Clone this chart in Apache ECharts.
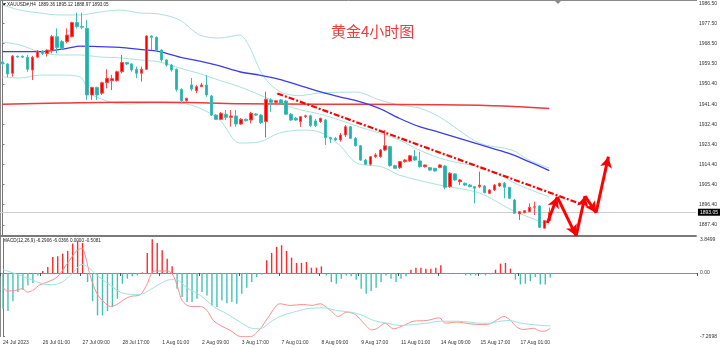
<!DOCTYPE html>
<html>
<head>
<meta charset="utf-8">
<script src="https://cdn.jsdelivr.net/npm/echarts@6/dist/echarts.min.js"></script>
<style>
  html, body { margin: 0; padding: 0; background: #ffffff; }
  #chart { width: 720px; height: 349px; }
</style>
</head>
<body>
<div id="chart"></div>
<script>
// XAUUSD H4 candles, 24 Jul 2023 17:00 .. 17 Aug 2023 09:00
const opens  = [1960.3,1959.4,1955.2,1962.8,1962.8,1962.4,1956.7,1962.4,1965.2,1964.1,1965.3,1971.6,1969.4,1969.4,1971.6,1977.9,1976.1,1975.3,1945.5,1948.9,1946.3,1951.0,1951.9,1951.9,1955.9,1960.0,1959.4,1957.0,1955.2,1957.0,1971.9,1971.3,1965.6,1961.2,1958.9,1957.0,1948.0,1943.0,1950.0,1947.4,1949.2,1950.0,1945.0,1936.5,1934.6,1936.9,1935.5,1936.1,1932.5,1934.6,1934.3,1937.0,1936.5,1933.6,1943.3,1942.2,1943.3,1942.8,1936.9,1935.1,1933.6,1935.8,1936.2,1933.9,1933.6,1934.3,1926.4,1926.1,1925.4,1927.6,1931.3,1926.1,1922.8,1916.4,1914.5,1917.9,1917.9,1920.9,1922.4,1913.9,1913.0,1915.7,1916.0,1917.9,1916.0,1913.4,1913.0,1912.7,1913.1,1913.7,1904.5,1910.2,1906.7,1906.0,1905.2,1904.5,1904.5,1904.8,1901.5,1903.0,1904.8,1906.0,1904.2,1898.5,1892.3,1892.8,1893.3,1895.3,1895.8,1885.9,1889.36];
const closes = [1959.4,1954.9,1962.9,1962.5,1962.4,1957.0,1962.4,1965.2,1964.1,1965.6,1971.6,1966.8,1966.4,1972.3,1977.9,1976.1,1975.8,1945.5,1948.9,1945.5,1951.0,1953.0,1952.8,1955.9,1960.0,1959.4,1956.7,1955.2,1957.0,1971.9,1971.3,1965.6,1961.2,1958.9,1956.7,1948.0,1943.0,1944.0,1948.2,1949.2,1950.0,1945.5,1936.5,1934.6,1937.3,1935.5,1936.1,1932.5,1934.6,1934.0,1937.3,1936.5,1933.1,1943.6,1942.2,1942.9,1941.8,1936.9,1934.3,1934.3,1935.8,1936.2,1931.8,1931.8,1935.1,1926.4,1925.8,1925.4,1927.6,1931.3,1926.1,1922.8,1916.4,1914.5,1917.9,1918.7,1920.9,1922.8,1913.9,1912.7,1915.7,1916.4,1918.3,1916.4,1913.4,1914.2,1911.9,1911.5,1914.2,1904.2,1910.5,1907.5,1907.5,1905.2,1904.5,1903.8,1905.2,1901.8,1903.0,1905.2,1906.0,1904.2,1899.3,1892.6,1893.3,1893.7,1895.3,1895.5,1886.3,1889.3,1893.05];
const lows   = [1958.5,1953.4,1953.7,1962.2,1962.1,1955.9,1952.2,1962.4,1963.4,1962.7,1964.1,1964.1,1965.6,1968.6,1971.3,1975.3,1974.9,1943.3,1943.3,1943.3,1945.5,1948.5,1947.7,1951.5,1955.2,1958.9,1955.9,1953.0,1951.5,1956.7,1965.6,1964.9,1960.4,1958.2,1955.9,1947.0,1941.8,1942.5,1947.4,1946.3,1949.1,1944.7,1936.1,1934.3,1934.3,1934.3,1931.3,1931.3,1932.1,1933.6,1932.8,1936.1,1932.5,1926.5,1938.0,1941.5,1941.0,1936.5,1933.9,1933.9,1931.3,1935.2,1931.2,1931.2,1933.0,1923.1,1924.0,1924.9,1924.6,1926.7,1925.8,1922.4,1916.0,1914.2,1913.9,1917.3,1917.4,1920.4,1913.4,1912.4,1912.4,1915.2,1915.5,1916.0,1913.0,1913.0,1911.5,1911.2,1912.7,1903.3,1903.9,1907.0,1905.2,1904.8,1904.2,1897.0,1903.8,1901.5,1901.2,1902.5,1904.3,1899.3,1899.0,1892.3,1889.6,1892.6,1893.2,1891.8,1886.0,1885.7,1888.97];
const highs  = [1961.2,1959.7,1963.4,1963.1,1963.2,1963.4,1963.0,1965.6,1965.6,1965.9,1972.3,1975.3,1970.1,1975.3,1978.3,1982.3,1982.3,1979.1,1949.2,1949.2,1951.5,1957.0,1954.5,1956.4,1963.4,1960.3,1959.7,1958.2,1958.2,1972.3,1972.2,1971.6,1965.9,1961.5,1959.4,1957.4,1948.5,1944.3,1953.1,1950.0,1950.9,1954.4,1945.5,1937.0,1937.9,1938.8,1938.8,1938.8,1935.2,1935.0,1938.0,1937.4,1937.0,1947.0,1944.0,1943.3,1943.7,1943.3,1937.4,1935.7,1936.1,1936.7,1936.7,1934.8,1935.3,1934.8,1926.8,1926.7,1928.5,1932.1,1931.6,1926.7,1923.1,1916.9,1918.2,1919.5,1921.3,1929.8,1922.8,1914.3,1916.0,1916.9,1918.7,1920.9,1920.1,1914.3,1913.3,1912.8,1914.6,1914.2,1911.0,1910.6,1907.9,1906.3,1905.7,1904.8,1911.2,1905.2,1903.4,1905.7,1906.3,1906.6,1904.3,1899.0,1893.6,1894.0,1897.0,1897.8,1896.3,1889.6,1895.12];

// Overlays read as [bar index, price]
const bbUpper  = [[0,1985.8],[3.5,1983.5],[7.5,1982.2],[11.5,1981.3],[15.6,1981.3],[19.6,1982.6],[23.6,1983.5],[27.6,1982.2],[31.6,1981.7],[35.6,1979.1],[39.7,1972.3],[43.7,1971.0],[47.7,1972.3],[49.7,1967.0],[51.7,1957.0],[53.7,1950.6],[56.3,1946.5],[59.7,1945.2],[63.8,1946.4],[71.2,1946.8],[75.8,1943.3],[79.8,1941.0],[83.8,1939.7],[87.9,1935.7],[95.9,1924.0],[102.5,1920.9],[105.9,1916.4],[110,1912.8]];
const bbMiddle = [[0,1969.2],[3.5,1967.9],[7.5,1964.7],[11.5,1963.4],[15.6,1963.4],[19.6,1962.5],[23.6,1962.1],[27.6,1961.2],[31.6,1960.3],[35.6,1957.6],[39.7,1955.0],[43.7,1952.0],[47.7,1949.2],[51.7,1945.6],[55.7,1941.8],[59.7,1939.0],[63.8,1937.0],[67.8,1934.3],[71.8,1931.2],[75.8,1928.5],[79.8,1925.4],[83.8,1920.9],[87.9,1917.3],[91.9,1915.1],[95.9,1913.3],[99.9,1909.7],[103.9,1905.2],[110,1899.9]];
const bbLower  = [[0,1953.6],[3.5,1953.1],[7.5,1954.4],[11.5,1954.4],[15.6,1953.6],[17.6,1946.4],[21.6,1942.4],[25.6,1941.5],[29.6,1941.9],[35.6,1941.9],[39.7,1939.6],[43.7,1934.3],[47.7,1924.0],[51.7,1924.5],[55.7,1928.5],[60.3,1929.8],[63.8,1928.9],[67.8,1923.1],[71.2,1915.1],[76.4,1913.3],[79.8,1909.7],[87.9,1905.2],[95.9,1901.7],[102.5,1894.0],[110,1887.3]];
const maBlue   = [[0,1964.9],[7.5,1964.9],[13,1966.4],[15.6,1967.4],[19.6,1967.1],[23.6,1966.8],[27.6,1965.9],[31.6,1964.9],[35.7,1962.4],[39.7,1960.7],[43.7,1958.5],[47.7,1955.9],[51.7,1954.4],[55.7,1952.5],[59.4,1950.0],[63.8,1947.0],[67.8,1944.7],[71.8,1942.5],[75.8,1939.5],[79.8,1935.1],[83.9,1931.3],[87.9,1928.8],[95.9,1923.4],[101.9,1919.4],[105.9,1915.7],[110,1911.7]];
const maRed    = [[0,1941.4],[12,1941.9],[24,1942.2],[32,1942.2],[40,1942.0],[48,1941.6],[64,1941.4],[80,1941.3],[96,1940.9],[104,1940.2],[110,1939.5]];
const trendLine = [[55.3,1946.2],[116.4,1896.7]];
const arrowPath = [[109.6,1888.2],[111.6,1899.9],[115.4,1882.5],[117.2,1900.3],[119.4,1892.8],[121.9,1917.9]];

// MACD(12,26,9)
const macdHist = [-4.08,-4.35,-3.21,-2.18,-1.91,-1.41,-1.15,-0.27,0.23,0.69,1.83,1.91,2.21,2.52,3.36,3.7,3.44,-1.03,-3.21,-4.85,-4.85,-4.35,-3.89,-2.94,-1.22,-0.65,-0.38,-0.27,0.05,2.29,3.85,3.44,2.60,1.64,0.76,-1.79,-2.75,-3.32,-3.32,-2.94,-2.18,-2.56,-3.70,-3.89,-3.13,-3.44,-3.32,-3.51,
  -2.37,-1.68,-1.03,-0.46,-0.19,1.45,2.29,2.98,3.17,2.52,1.76,1.15,1.15,1.26,0.61,0.61,0.76,-0.27,-1.03,-1.22,-0.65,-0.27,-0.38,-0.76,-1.79,-2.37,-2.06,-1.68,-1.03,-0.27,-0.65,-1.03,-0.65,-0.38,0.38,0.61,0.61,0.50,0.50,0.61,0.88,-0.08,-0.06,-0.10,-0.08,-0.27,-0.27,-0.27,
  -0.15,-0.27,-0.15,0.38,1.07,1.15,0.50,-0.76,-1.30,-1.22,-0.92,-0.46,-1.30,-1.30,-0.5081];
const macdDif = [[0,-1.6],[0.8,-2.06],[2.5,-1.98],[3.9,-1.79],[4.9,-2.18],[6.2,-1.91],[7.2,-1.41],[8.9,-1.03],[10.9,-0.46],[12.9,1.07],[14.9,2.6],[15.9,2.79],[16.6,1.83],[17.6,-0.46],[18.9,-2.37],[20.3,-3.32],[21.6,-3.82],[22.9,-3.59],[24.3,-3.05],[25.6,-2.67],[27.6,-2.48],[29,-1.22],[30,0.11],[31,0.23],[33,0.23],[34,-0.08],[35,-1.41],[36,-3.13],[37.7,-3.82],[39.7,-3.82],[41,-4.27],[42.3,-5.42],[43.7,-5.99],[45.7,-6.56],[47.7,-7.25],[49.7,-7.2698],[51.7,-6.37],[53.1,-5.23],[55.7,-3.51],[57.7,-3.7],[60.4,-3.59],[62.1,-3.7],[63.7,-3.51],[65.8,-4.27],[67.4,-4.96],[69.1,-4.47],[70.8,-4.73],[72.5,-5.73],[74.1,-6.49],[75.1,-6.37],[76.8,-5.73],[78.5,-6.37],[80.5,-5.99],[82.5,-5.5],[85.2,-5.42],[87.7,-5.11],[88.9,-5.73],[91.2,-5.6],[93.9,-5.8],[95.9,-5.88],[97.9,-5.8],[99.3,-5.34],[100.7,-4.96],[101.9,-5.34],[103.3,-6.18],[104.6,-6.45],[106.6,-6.3],[107.9,-6.62],[108.9,-6.65],[110,-6.2906]];
const macdDea = [[0,0.38],[2.5,-0.08],[5.2,-0.65],[7.9,-1.22],[9.9,-1.34],[11.9,-1.03],[13.9,-0.08],[15.9,0.99],[16.9,0.76],[18.9,-0.27],[21.6,-1.41],[23.6,-2.18],[25.6,-2.44],[27.6,-2.44],[29.6,-1.91],[31.6,-1.22],[33.6,-0.76],[35,-0.8],[37,-1.68],[39.7,-2.56],[42.3,-3.82],[45,-4.66],[47.7,-5.61],[49.7,-6.26],[51.7,-6.37],[53.7,-5.61],[55.7,-4.96],[58.4,-4.47],[61.1,-4.08],[64.4,-3.97],[67.1,-4.27],[69.8,-4.47],[71.8,-4.73],[74.5,-5.42],[77.2,-5.73],[79.8,-5.99],[82.5,-5.88],[85.2,-5.73],[87.9,-5.5],[91.2,-5.5],[93.9,-5.61],[95.9,-5.73],[97.9,-5.73],[99.9,-5.5],[101.9,-5.42],[103.9,-5.7],[105.9,-5.85],[107.9,-5.97],[110,-6.0366]];

// Axis labels
const priceTicks = [1986.5,1977.5,1968.5,1959.5,1950.4,1941.4,1932.4,1923.4,1914.4,1905.4,1896.4,1887.4];
const macdTicks = [3.8499, 0, -7.2698];
const timeLabels = ['24 Jul 2023','26 Jul 01:00','27 Jul 09:00','28 Jul 17:00','1 Aug 01:00','2 Aug 09:00','3 Aug 17:00','7 Aug 01:00','8 Aug 09:00','9 Aug 17:00','11 Aug 01:00','14 Aug 09:00','15 Aug 17:00','17 Aug 01:00'];
const symbolName = 'XAUUSD#';
const chartTitle = '黄金4小时图';

// H4 session bars (weekdays only); extra slots leave room on the right
const SLOTS = 140;
function barTimes(count) {
  const mon = ['Jan','Feb','Mar','Apr','May','Jun','Jul','Aug','Sep','Oct','Nov','Dec'];
  const out = [];
  let t = Date.UTC(2023, 6, 24, 17);
  while (out.length < count) {
    const d = new Date(t);
    const wd = d.getUTCDay();
    if (wd !== 0 && wd !== 6) {
      out.push(d.getUTCDate() + ' ' + mon[d.getUTCMonth()] + ' ' + String(d.getUTCHours()).padStart(2, '0') + ':00');
    }
    t += 4 * 3600 * 1000;
  }
  return out;
}
const categories = barTimes(SLOTS);
const showTime = (idx, val) => idx === 0 || timeLabels.indexOf(val) >= 0;

const candleData = opens.map((o, i) => [o, closes[i], lows[i], highs[i]]);
const last = opens.length - 1;

const UP = '#ff0000', DOWN = '#20b2aa';
const FONT = 'Liberation Sans';
const GRID_L = 0, GRID_R = 23;

const arrowSegments = [];
for (let k = 0; k + 1 < arrowPath.length; k++) {
  arrowSegments.push([{ coord: arrowPath[k] }, { coord: arrowPath[k + 1] }]);
}

const overlayLine = (data, color, width, extra) => Object.assign({
  type: 'line', xAxisIndex: 2, yAxisIndex: 0, data: data,
  showSymbol: false, symbol: 'none', smooth: 0.3, silent: true,
  lineStyle: { color: color, width: width }, z: 3
}, extra || {});

const chart = echarts.init(document.getElementById('chart'), null, { renderer: 'canvas' });
chart.setOption({
  animation: false,
  backgroundColor: '#ffffff',
  title: {
    text: chartTitle, left: 326, top: 19,
    textStyle: { color: '#f23a3a', fontSize: 15, fontWeight: 'normal', fontFamily: 'Noto Sans CJK SC' }
  },
  grid: [
    { left: GRID_L, right: GRID_R, top: 0, height: 236 },
    { left: GRID_L, right: GRID_R, top: 239.3, height: 97.4 }
  ],
  xAxis: [
    { type: 'category', gridIndex: 0, data: categories, boundaryGap: true,
      axisLine: { show: true, lineStyle: { color: '#7a7a7a', width: 2 } },
      axisTick: { show: false }, axisLabel: { show: false }, splitLine: { show: false } },
    { type: 'category', gridIndex: 1, data: categories, boundaryGap: true,
      axisLine: { show: true, lineStyle: { color: '#8a8a8a', width: 1 } },
      axisTick: { show: true, interval: showTime, length: 3, lineStyle: { color: '#555' } },
      axisLabel: { show: true, interval: showTime, align: 'left', margin: 3.5, fontSize: 5, color: '#333', fontFamily: FONT,
        formatter: (val, idx) => idx === 0 ? timeLabels[0] : val },
      splitLine: { show: false } },
    { type: 'value', gridIndex: 0, min: -0.5, max: SLOTS - 0.5, show: false },
    { type: 'value', gridIndex: 1, min: -0.5, max: SLOTS - 0.5, show: false }
  ],
  yAxis: [
    { type: 'value', gridIndex: 0, position: 'right', min: 1882.41, max: 1988.0,
      axisLine: { show: true, lineStyle: { color: '#777', width: 1 } },
      axisTick: { show: true, length: 2, customValues: priceTicks, lineStyle: { color: '#777' } },
      axisLabel: { customValues: priceTicks, formatter: v => v.toFixed(2), fontSize: 5, color: '#333', margin: 3, fontFamily: FONT },
      splitLine: { show: false } },
    { type: 'value', gridIndex: 1, position: 'right', min: -7.2698, max: 3.8499,
      axisLine: { show: true, lineStyle: { color: '#777', width: 1 } },
      axisTick: { show: true, length: 2, customValues: macdTicks, lineStyle: { color: '#777' } },
      axisLabel: { customValues: macdTicks, formatter: v => v === 0 ? '0.00' : v.toFixed(4), fontSize: 5, color: '#333', margin: 3, fontFamily: FONT },
      splitLine: { show: false } }
  ],
  series: [
    overlayLine(bbUpper, '#a9e2de', 1),
    overlayLine(bbMiddle, '#a9e2de', 1),
    overlayLine(bbLower, '#a9e2de', 1),
    overlayLine(maRed, '#ee3a3a', 1.5),
    overlayLine(maBlue, '#3b3bef', 1.3),
    {
      type: 'candlestick', xAxisIndex: 0, yAxisIndex: 0, data: candleData,
      barWidth: 3, silent: true, z: 4,
      itemStyle: { color: UP, color0: DOWN, borderColor: '#ff4a4a', borderColor0: '#3dbdb5', borderWidth: 1 },
      markLine: {
        silent: true, symbol: 'none', z: 1,
        data: [{ yAxis: closes[last] }],
        lineStyle: { color: '#cdcdcd', width: 1, type: 'solid' },
        label: { show: true, position: 'end', distance: 2, formatter: p => Number(p.value).toFixed(2),
          backgroundColor: '#000', color: '#fff', fontSize: 5, padding: [1, 2], fontFamily: FONT }
      }
    },
    overlayLine(trendLine, '#ff0000', 2.2, {
      smooth: false, z: 5,
      lineStyle: { color: '#ff0000', width: 2.2, type: [6, 2, 2, 2] },
      markLine: {
        silent: true, symbol: ['none', 'arrow'], symbolSize: [9, 11], z: 6,
        label: { show: false },
        lineStyle: { color: '#ff0000', width: 3, type: 'solid' },
        data: arrowSegments
      }
    }),
    {
      type: 'bar', xAxisIndex: 1, yAxisIndex: 1, data: macdHist, barWidth: 1.4, silent: true,
      itemStyle: { color: p => p.value >= 0 ? '#ff2a2a' : '#45c2b6' }
    },
    { type: 'line', xAxisIndex: 3, yAxisIndex: 1, data: macdDif, showSymbol: false, symbol: 'none', smooth: 0.3, silent: true,
      lineStyle: { color: '#ff8c8c', width: 1 } },
    { type: 'line', xAxisIndex: 3, yAxisIndex: 1, data: macdDea, showSymbol: false, symbol: 'none', smooth: 0.3, silent: true,
      lineStyle: { color: '#9fe2db', width: 1 } }
  ],
  graphic: [
    { type: 'line', shape: { x1: 0, y1: 0.5, x2: 697, y2: 0.5 }, style: { stroke: '#8a8a8a', lineWidth: 1 }, silent: true },
    { type: 'line', shape: { x1: 0.5, y1: 0, x2: 0.5, y2: 337 }, style: { stroke: '#8a8a8a', lineWidth: 1 }, silent: true },
    { type: 'polygon', shape: { points: [[555, 1], [561, 1], [558, 4]] }, style: { fill: '#8a8a8a' }, silent: true },
    { type: 'polygon', shape: { points: [[2, 3], [6, 3], [4, 6]] }, style: { fill: '#111' }, silent: true },
    { type: 'text', left: 7, top: 2, silent: true,
      style: { text: symbolName + ',H4  ' + [opens[last], highs[last], lows[last], closes[last]].map(v => v.toFixed(2)).join(' '),
        fill: '#222', fontSize: 4.6, fontFamily: FONT } },
    { type: 'text', left: 3, top: 238.5, silent: true,
      style: { text: 'MACD(12,26,9) ' + macdDif[macdDif.length - 1][1].toFixed(4) + ' ' + macdDea[macdDea.length - 1][1].toFixed(4) + ' 0.0000 ' + macdHist[last].toFixed(4),
        fill: '#222', fontSize: 4.6, fontFamily: FONT } }
  ]
});
</script>
</body>
</html>
